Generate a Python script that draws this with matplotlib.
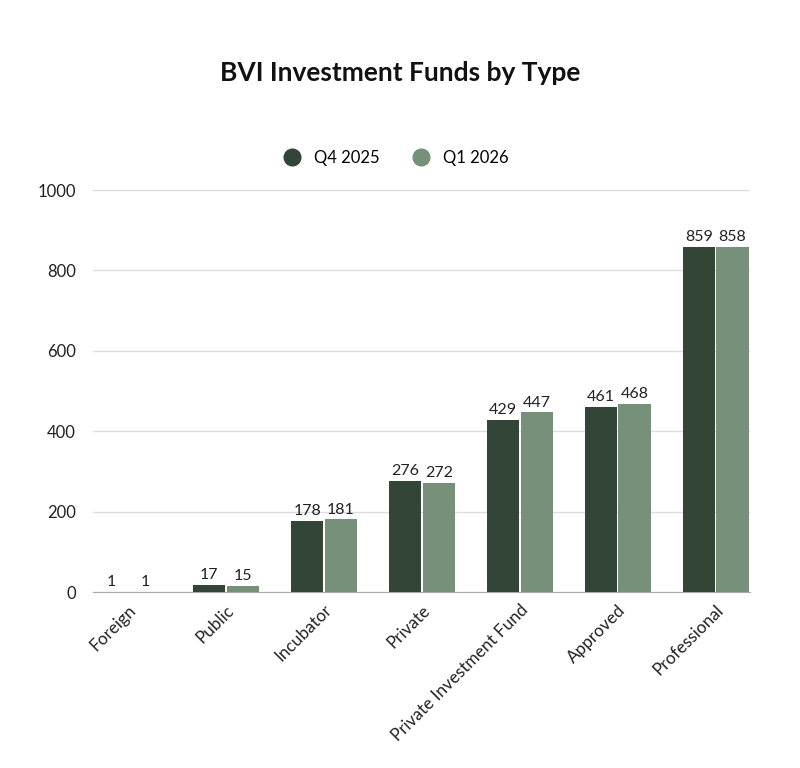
import numpy as np
import matplotlib.pyplot as plt
from matplotlib.lines import Line2D

# Data
categories = ["Foreign", "Public", "Incubator", "Private",
              "Private Investment Fund", "Approved", "Professional"]
q4_2025 = [1, 17, 178, 276, 429, 461, 859]
q1_2026 = [1, 15, 181, 272, 447, 468, 858]
series_names = ["Q4 2025", "Q1 2026"]
y_ticks = [0, 200, 400, 600, 800, 1000]

DARK = '#334536'
LIGHT = '#76907a'

plt.rcParams['font.family'] = ['Lato', 'DejaVu Sans']

fig = plt.figure(figsize=(8, 7.68), dpi=100)
ax = fig.add_axes([0.116, 0.229, 0.8215, 0.5236])

x = np.arange(len(categories))
w = 0.33
off = 0.172
b1 = ax.bar(x - off, q4_2025, width=w, color=DARK, zorder=3)
b2 = ax.bar(x + off, q1_2026, width=w, color=LIGHT, zorder=3)

for bars in (b1, b2):
    for rect in bars:
        h = rect.get_height()
        ax.text(rect.get_x() + rect.get_width() / 2, h + 7, "{}".format(int(h)),
                ha='center', va='bottom', fontsize=11.5, color='#222222')

ax.set_xlim(-0.36, 6.35)
ax.set_ylim(0, 1000)
ax.set_yticks(y_ticks)
ax.set_yticklabels([str(t) for t in y_ticks], fontsize=12, color='#222222')
ax.set_xticks(x)
ax.set_xticklabels(categories, rotation=45, ha='right', rotation_mode='anchor',
                   fontsize=12.3, color='#222222')
ax.tick_params(axis='both', length=0)
ax.tick_params(axis='y', pad=12)
ax.tick_params(axis='x', pad=7)
ax.grid(axis='y', color='#dddddd', linewidth=1, zorder=0)
for s in ['top', 'right', 'left']:
    ax.spines[s].set_visible(False)
ax.spines['bottom'].set_color('#aaaaaa')

fig.text(0.5, 0.905, "BVI Investment Funds by Type", ha='center', va='center',
         fontsize=19, fontweight='bold', color='#111111')

handles = [Line2D([0], [0], marker='o', linestyle='', markersize=12,
                  markerfacecolor=c, markeredgecolor=c) for c in (DARK, LIGHT)]
fig.legend(handles, series_names, loc='center', bbox_to_anchor=(0.49, 0.794),
           ncol=2, frameon=False, fontsize=12, handletextpad=0.3,
           columnspacing=1.5)

fig.savefig('out.png', dpi=100)
